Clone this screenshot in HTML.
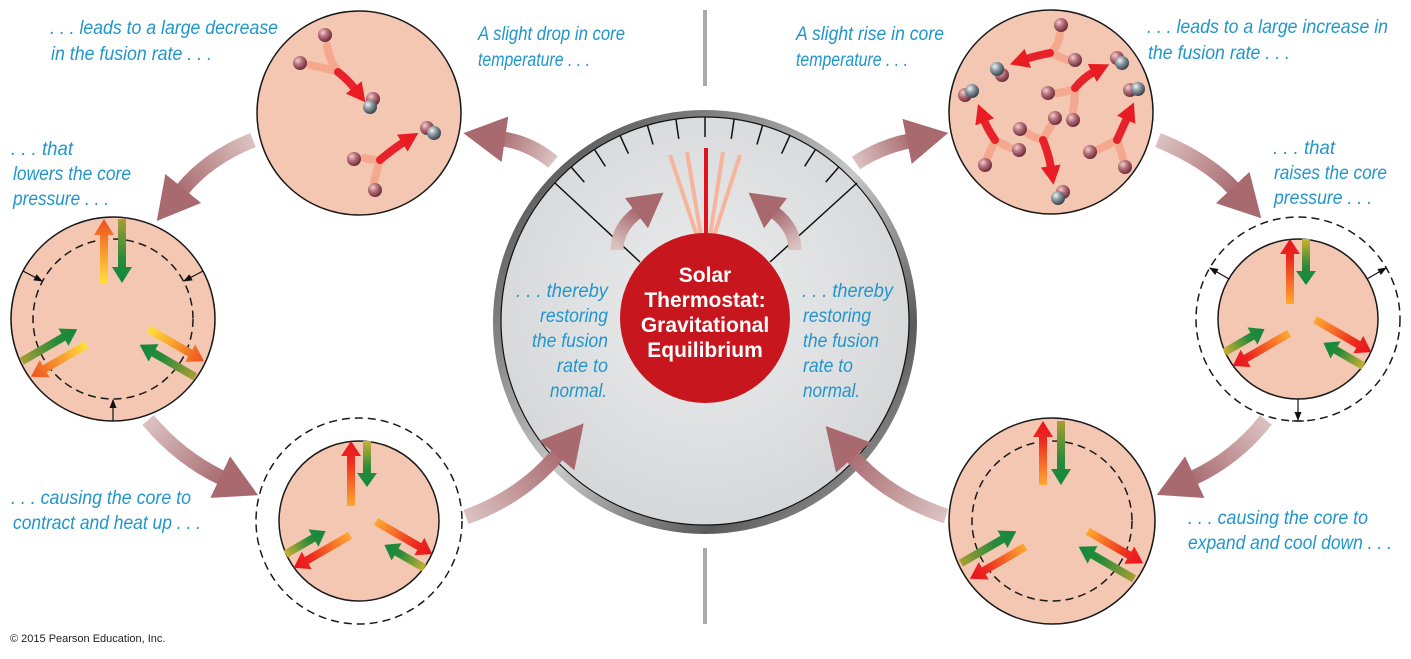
<!DOCTYPE html>
<html><head><meta charset="utf-8"><style>
html,body{margin:0;padding:0;background:#fff;}
svg{display:block;}
.t{font-family:"Liberation Sans Narrow","Liberation Sans",sans-serif;font-style:italic;font-size:19px;fill:#2196cc;}
.w{font-family:"Liberation Sans",sans-serif;font-weight:bold;font-size:21px;fill:#fff;}
</style></head><body>
<svg width="1411" height="659" viewBox="0 0 1411 659" xmlns="http://www.w3.org/2000/svg">
<defs>
<marker id="bh" markerUnits="userSpaceOnUse" markerWidth="44" markerHeight="46" refX="2" refY="23" orient="auto"><path d="M0,0 L42,23 L0,46 z" fill="#a86a6f"/></marker>
<marker id="ih" markerUnits="userSpaceOnUse" markerWidth="36" markerHeight="38" refX="2" refY="19" orient="auto"><path d="M0,0 L34,19 L0,38 z" fill="#a8696e"/></marker>
<marker id="rh" markerUnits="userSpaceOnUse" markerWidth="20" markerHeight="20" refX="2" refY="10" orient="auto"><path d="M0,0 L19,10 L0,20 z" fill="#e81c22"/></marker>
<marker id="kh" markerUnits="userSpaceOnUse" markerWidth="9" markerHeight="7" refX="8" refY="3.5" orient="auto"><path d="M0,0 L9,3.5 L0,7 z" fill="#111"/></marker>
<radialGradient id="pk" cx="35%" cy="32%" r="70%"><stop offset="0" stop-color="#f4d0d0"/><stop offset="0.45" stop-color="#b6707a"/><stop offset="1" stop-color="#6a2c38"/></radialGradient>
<radialGradient id="gy" cx="35%" cy="32%" r="70%"><stop offset="0" stop-color="#f0f4f6"/><stop offset="0.45" stop-color="#8c989f"/><stop offset="1" stop-color="#37434c"/></radialGradient>
<linearGradient id="ring" x1="0" y1="0" x2="1" y2="1"><stop offset="0" stop-color="#3a3a3a"/><stop offset="0.3" stop-color="#8a8a8a"/><stop offset="0.5" stop-color="#c8c8c8"/><stop offset="0.75" stop-color="#5a5a5a"/><stop offset="1" stop-color="#b8b8b8"/></linearGradient>
<radialGradient id="face" cx="50%" cy="45%" r="60%"><stop offset="0" stop-color="#eceded"/><stop offset="1" stop-color="#d3d5d7"/></radialGradient>
<linearGradient id="gO1" gradientUnits="userSpaceOnUse" x1="0" y1="-36" x2="0" y2="-100"><stop offset="0" stop-color="#ffe03a"/><stop offset="1" stop-color="#ee4e1e"/></linearGradient>
<linearGradient id="gI1" gradientUnits="userSpaceOnUse" x1="0" y1="-100" x2="0" y2="-36"><stop offset="0" stop-color="#a89e34"/><stop offset="0.6" stop-color="#2a8a3a"/><stop offset="1" stop-color="#0f883c"/></linearGradient>
<linearGradient id="gR1" gradientUnits="userSpaceOnUse" x1="0" y1="-36" x2="0" y2="-100"><stop offset="0" stop-color="#ffa830"/><stop offset="0.7" stop-color="#ec2a20"/><stop offset="1" stop-color="#e8101e"/></linearGradient>
<linearGradient id="gR2" gradientUnits="userSpaceOnUse" x1="0" y1="-15" x2="0" y2="-80"><stop offset="0" stop-color="#ffa830"/><stop offset="0.7" stop-color="#ec2a20"/><stop offset="1" stop-color="#e8101e"/></linearGradient>
<linearGradient id="gI2" gradientUnits="userSpaceOnUse" x1="0" y1="-80" x2="0" y2="-34"><stop offset="0" stop-color="#c8b032"/><stop offset="0.6" stop-color="#2a8a3a"/><stop offset="1" stop-color="#0f883c"/></linearGradient>
<g id="pA">
<path d="M-13,-36 h8 v-48 h6 l-10,-16 l-10,16 h6 z" fill="url(#gO1)"/>
<path d="M5,-100 h8 v48 h6 l-10,16 l-10,-16 h6 z" fill="url(#gI1)"/>
</g>
<g id="pB">
<path d="M-13,-36 h8 v-48 h6 l-10,-16 l-10,16 h6 z" fill="url(#gR1)"/>
<path d="M5,-100 h8 v48 h6 l-10,16 l-10,-16 h6 z" fill="url(#gI1)"/>
</g>
<g id="pC">
<path d="M-12,-15 h8 v-50 h6 l-10,-15 l-10,15 h6 z" fill="url(#gR2)"/>
<path d="M4,-80 h8 v32 h6 l-10,14 l-10,-14 h6 z" fill="url(#gI2)"/>
</g>
<linearGradient id="a1" gradientUnits="userSpaceOnUse" x1="553" y1="162" x2="497" y2="138"><stop offset="0" stop-color="#dcc2c2"/><stop offset="1" stop-color="#a86a6f"/></linearGradient>
<linearGradient id="a2" gradientUnits="userSpaceOnUse" x1="253" y1="140" x2="178" y2="193"><stop offset="0" stop-color="#dcc2c2"/><stop offset="1" stop-color="#a86a6f"/></linearGradient>
<linearGradient id="a3" gradientUnits="userSpaceOnUse" x1="148" y1="420" x2="226" y2="480"><stop offset="0" stop-color="#dcc2c2"/><stop offset="1" stop-color="#a86a6f"/></linearGradient>
<linearGradient id="a4" gradientUnits="userSpaceOnUse" x1="466" y1="517" x2="562" y2="450"><stop offset="0" stop-color="#dcc2c2"/><stop offset="1" stop-color="#a86a6f"/></linearGradient>
<linearGradient id="a5" gradientUnits="userSpaceOnUse" x1="856" y1="163" x2="913" y2="140"><stop offset="0" stop-color="#dcc2c2"/><stop offset="1" stop-color="#a86a6f"/></linearGradient>
<linearGradient id="a6" gradientUnits="userSpaceOnUse" x1="1158" y1="140" x2="1238" y2="192"><stop offset="0" stop-color="#dcc2c2"/><stop offset="1" stop-color="#a86a6f"/></linearGradient>
<linearGradient id="a7" gradientUnits="userSpaceOnUse" x1="1266" y1="420" x2="1188" y2="480"><stop offset="0" stop-color="#dcc2c2"/><stop offset="1" stop-color="#a86a6f"/></linearGradient>
<linearGradient id="a8" gradientUnits="userSpaceOnUse" x1="946" y1="516" x2="848" y2="452"><stop offset="0" stop-color="#dcc2c2"/><stop offset="1" stop-color="#a86a6f"/></linearGradient>
<linearGradient id="a9" gradientUnits="userSpaceOnUse" x1="617" y1="247" x2="638" y2="212"><stop offset="0" stop-color="#dcc2c2"/><stop offset="1" stop-color="#a86a6f"/></linearGradient>
<linearGradient id="a10" gradientUnits="userSpaceOnUse" x1="795" y1="247" x2="774" y2="212"><stop offset="0" stop-color="#dcc2c2"/><stop offset="1" stop-color="#a86a6f"/></linearGradient>
</defs>

<rect x="703" y="10" width="4" height="76" fill="#aaa"/>
<rect x="703" y="548" width="4" height="76" fill="#aaa"/>

<circle cx="705" cy="322" r="212" fill="url(#ring)"/>
<circle cx="705" cy="321" r="204" fill="url(#face)" stroke="#111" stroke-width="1.2"/>
<g stroke="#111" stroke-width="1.5">
<line x1="555" y1="183" x2="640" y2="262"/>
<line x1="857" y1="183" x2="770" y2="262"/>
<g transform="translate(705,321)">
<line x1="0" y1="-204" x2="0" y2="-184"/>
<line x1="0" y1="-204" x2="0" y2="-184" transform="rotate(8.2)"/>
<line x1="0" y1="-204" x2="0" y2="-184" transform="rotate(16.4)"/>
<line x1="0" y1="-204" x2="0" y2="-184" transform="rotate(24.6)"/>
<line x1="0" y1="-204" x2="0" y2="-184" transform="rotate(32.8)"/>
<line x1="0" y1="-204" x2="0" y2="-184" transform="rotate(41)"/>
<line x1="0" y1="-204" x2="0" y2="-184" transform="rotate(-8.2)"/>
<line x1="0" y1="-204" x2="0" y2="-184" transform="rotate(-16.4)"/>
<line x1="0" y1="-204" x2="0" y2="-184" transform="rotate(-24.6)"/>
<line x1="0" y1="-204" x2="0" y2="-184" transform="rotate(-32.8)"/>
<line x1="0" y1="-204" x2="0" y2="-184" transform="rotate(-41)"/>
</g></g>
<g stroke="#f7b49c" stroke-width="4">
<line x1="670" y1="155" x2="697" y2="236"/>
<line x1="687" y1="152" x2="701" y2="236"/>
<line x1="723" y1="152" x2="710" y2="236"/>
<line x1="740" y1="155" x2="714" y2="236"/>
</g>
<line x1="706" y1="148" x2="706" y2="240" stroke="#e0141c" stroke-width="4"/>
<path d="M617,250 Q617,228 638,212" fill="none" stroke="url(#a9)" stroke-width="13" marker-end="url(#ih)"/>
<path d="M795,250 Q795,228 774,212" fill="none" stroke="url(#a10)" stroke-width="13" marker-end="url(#ih)"/>
<circle cx="705" cy="318" r="85" fill="#c8161e"/>
<g class="w" text-anchor="middle">
<text x="705" y="282">Solar</text>
<text x="705" y="307">Thermostat:</text>
<text x="705" y="332">Gravitational</text>
<text x="705" y="357">Equilibrium</text>
</g>
<text class="t" x="516" y="297" textLength="92" lengthAdjust="spacingAndGlyphs">. . . thereby</text>
<text class="t" x="540" y="322" textLength="68" lengthAdjust="spacingAndGlyphs">restoring</text>
<text class="t" x="532" y="347" textLength="76" lengthAdjust="spacingAndGlyphs">the fusion</text>
<text class="t" x="557" y="372" textLength="51" lengthAdjust="spacingAndGlyphs">rate to</text>
<text class="t" x="550" y="397" textLength="57" lengthAdjust="spacingAndGlyphs">normal.</text>
<text class="t" x="802" y="297" textLength="91" lengthAdjust="spacingAndGlyphs">. . . thereby</text>
<text class="t" x="803" y="322" textLength="68" lengthAdjust="spacingAndGlyphs">restoring</text>
<text class="t" x="803" y="347" textLength="76" lengthAdjust="spacingAndGlyphs">the fusion</text>
<text class="t" x="803" y="372" textLength="50" lengthAdjust="spacingAndGlyphs">rate to</text>
<text class="t" x="803" y="397" textLength="57" lengthAdjust="spacingAndGlyphs">normal.</text>

<g fill="none" stroke-width="15">
<path d="M553,162 Q530,143 503,139" stroke="url(#a1)" marker-end="url(#bh)"/>
<path d="M253,140 Q208,158 182,190" stroke="url(#a2)" marker-end="url(#bh)"/>
<path d="M148,420 Q180,458 222,478" stroke="url(#a3)" marker-end="url(#bh)"/>
<path d="M466,517 Q522,497 558,454" stroke="url(#a4)" marker-end="url(#bh)"/>
<path d="M856,163 Q880,147 909,141" stroke="url(#a5)" marker-end="url(#bh)"/>
<path d="M1158,140 Q1207,160 1234,189" stroke="url(#a6)" marker-end="url(#bh)"/>
<path d="M1266,420 Q1236,458 1193,478" stroke="url(#a7)" marker-end="url(#bh)"/>
<path d="M946,516 Q888,497 852,456" stroke="url(#a8)" marker-end="url(#bh)"/>
</g>

<circle cx="359" cy="113" r="102" fill="#f3c7b2" stroke="#1a1a1a" stroke-width="1.5"/>
<g fill="none" stroke-width="8" stroke-linecap="round">
<path d="M327,45 Q330,62 338,72 M310,65 Q325,68 338,72" stroke="#f6a88e"/>
<path d="M338,72 Q348,80 355,89" stroke="#e8222a" marker-end="url(#rh)"/>
<path d="M364,158 Q372,160 380,160 M374,182 Q377,170 380,160" stroke="#f6a88e"/>
<path d="M380,160 Q393,149 404,142" stroke="#e8222a" marker-end="url(#rh)"/>
</g>
<circle cx="325" cy="35" r="7" fill="url(#pk)"/>
<circle cx="300" cy="63" r="7" fill="url(#pk)"/>
<circle cx="373" cy="99" r="7" fill="url(#pk)"/>
<circle cx="370" cy="107" r="7" fill="url(#gy)"/>
<circle cx="354" cy="159" r="7" fill="url(#pk)"/>
<circle cx="375" cy="190" r="7" fill="url(#pk)"/>
<circle cx="427" cy="128" r="7" fill="url(#pk)"/>
<circle cx="434" cy="133" r="7" fill="url(#gy)"/>

<circle cx="1051" cy="112" r="102" fill="#f3c7b2" stroke="#1a1a1a" stroke-width="1.5"/>
<g fill="none" stroke-width="8" stroke-linecap="round">
<path d="M1060,34 Q1058,48 1050,53 M1067,60 Q1058,56 1050,53" stroke="#f6a88e"/>
<path d="M1050,53 Q1035,56 1026,59" stroke="#e8222a" marker-end="url(#rh)"/>
<path d="M1057,93 Q1068,92 1075,88 M1073,112 Q1075,100 1075,88" stroke="#f6a88e"/>
<path d="M1075,88 Q1084,77 1094,72" stroke="#e8222a" marker-end="url(#rh)"/>
<path d="M987,158 Q992,148 995,140 M1011,148 Q1002,144 995,140" stroke="#f6a88e"/>
<path d="M995,140 Q987,128 984,120" stroke="#e8222a" marker-end="url(#rh)"/>
<path d="M1027,133 Q1035,138 1043,140 M1051,126 Q1046,133 1043,140" stroke="#f6a88e"/>
<path d="M1043,140 Q1049,155 1051,168" stroke="#e8222a" marker-end="url(#rh)"/>
<path d="M1097,150 Q1108,145 1117,140 M1123,158 Q1120,148 1117,140" stroke="#f6a88e"/>
<path d="M1117,140 Q1123,127 1127,118" stroke="#e8222a" marker-end="url(#rh)"/>
</g>
<g>
<circle cx="1061" cy="25" r="7" fill="url(#pk)"/>
<circle cx="1075" cy="60" r="7" fill="url(#pk)"/>
<circle cx="1048" cy="93" r="7" fill="url(#pk)"/>
<circle cx="1055" cy="118" r="7" fill="url(#pk)"/>
<circle cx="1073" cy="120" r="7" fill="url(#pk)"/>
<circle cx="1020" cy="129" r="7" fill="url(#pk)"/>
<circle cx="1019" cy="150" r="7" fill="url(#pk)"/>
<circle cx="985" cy="165" r="7" fill="url(#pk)"/>
<circle cx="1090" cy="152" r="7" fill="url(#pk)"/>
<circle cx="1125" cy="167" r="7" fill="url(#pk)"/>
<circle cx="1002" cy="75" r="7" fill="url(#pk)"/><circle cx="997" cy="69" r="7" fill="url(#gy)"/>
<circle cx="965" cy="95" r="7" fill="url(#pk)"/><circle cx="972" cy="91" r="7" fill="url(#gy)"/>
<circle cx="1117" cy="58" r="7" fill="url(#pk)"/><circle cx="1122" cy="63" r="7" fill="url(#gy)"/>
<circle cx="1130" cy="90" r="7" fill="url(#pk)"/><circle cx="1138" cy="89" r="7" fill="url(#gy)"/>
<circle cx="1063" cy="192" r="7" fill="url(#pk)"/><circle cx="1058" cy="198" r="7" fill="url(#gy)"/>
</g>

<circle cx="113" cy="319" r="102" fill="#f3c7b2" stroke="#1a1a1a" stroke-width="1.5"/>
<circle cx="113" cy="319" r="80" fill="none" stroke="#1a1a1a" stroke-width="1.5" stroke-dasharray="8 5"/>
<use href="#pA" transform="translate(113,319)"/>
<use href="#pA" transform="translate(113,319) rotate(-120)"/>
<use href="#pA" transform="translate(113,319) rotate(120)"/>
<g stroke="#111" stroke-width="1.2" marker-end="url(#kh)">
<line x1="23" y1="271" x2="42" y2="281"/>
<line x1="203" y1="271" x2="184" y2="281"/>
<line x1="113" y1="421" x2="113" y2="400"/>
</g>

<circle cx="359" cy="521" r="103" fill="none" stroke="#1a1a1a" stroke-width="1.5" stroke-dasharray="8 5"/>
<circle cx="359" cy="521" r="80" fill="#f3c7b2" stroke="#1a1a1a" stroke-width="1.5"/>
<use href="#pC" transform="translate(359,521)"/>
<use href="#pC" transform="translate(359,521) rotate(-120)"/>
<use href="#pC" transform="translate(359,521) rotate(120)"/>

<circle cx="1298" cy="319" r="102" fill="none" stroke="#1a1a1a" stroke-width="1.5" stroke-dasharray="8 5"/>
<circle cx="1298" cy="319" r="80" fill="#f3c7b2" stroke="#1a1a1a" stroke-width="1.5"/>
<use href="#pC" transform="translate(1298,319)"/>
<use href="#pC" transform="translate(1298,319) rotate(-120)"/>
<use href="#pC" transform="translate(1298,319) rotate(120)"/>
<g stroke="#111" stroke-width="1.2" marker-end="url(#kh)">
<line x1="1229" y1="279" x2="1210" y2="268"/>
<line x1="1367" y1="279" x2="1386" y2="268"/>
<line x1="1298" y1="399" x2="1298" y2="420"/>
</g>
<line x1="1292" y1="421" x2="1304" y2="421" stroke="#111" stroke-width="1.2"/>

<circle cx="1052" cy="521" r="103" fill="#f3c7b2" stroke="#1a1a1a" stroke-width="1.5"/>
<circle cx="1052" cy="521" r="80" fill="none" stroke="#1a1a1a" stroke-width="1.5" stroke-dasharray="8 5"/>
<use href="#pB" transform="translate(1052,521)"/>
<use href="#pB" transform="translate(1052,521) rotate(-120)"/>
<use href="#pB" transform="translate(1052,521) rotate(120)"/>

<text class="t" x="50" y="34" textLength="228" lengthAdjust="spacingAndGlyphs">. . . leads to a large decrease</text>
<text class="t" x="51" y="60" textLength="161" lengthAdjust="spacingAndGlyphs">in the fusion rate . . .</text>
<text class="t" x="478" y="40" textLength="147" lengthAdjust="spacingAndGlyphs">A slight drop in core</text>
<text class="t" x="478" y="66" textLength="112" lengthAdjust="spacingAndGlyphs">temperature . . .</text>
<text class="t" x="11" y="155" textLength="62" lengthAdjust="spacingAndGlyphs">. . . that</text>
<text class="t" x="13" y="180" textLength="118" lengthAdjust="spacingAndGlyphs">lowers the core</text>
<text class="t" x="13" y="205" textLength="96" lengthAdjust="spacingAndGlyphs">pressure . . .</text>
<text class="t" x="11" y="504" textLength="180" lengthAdjust="spacingAndGlyphs">. . . causing the core to</text>
<text class="t" x="13" y="529" textLength="188" lengthAdjust="spacingAndGlyphs">contract and heat up . . .</text>
<text class="t" x="796" y="40" textLength="148" lengthAdjust="spacingAndGlyphs">A slight rise in core</text>
<text class="t" x="796" y="66" textLength="112" lengthAdjust="spacingAndGlyphs">temperature . . .</text>
<text class="t" x="1147" y="33" textLength="241" lengthAdjust="spacingAndGlyphs">. . . leads to a large increase in</text>
<text class="t" x="1148" y="59" textLength="142" lengthAdjust="spacingAndGlyphs">the fusion rate . . .</text>
<text class="t" x="1273" y="154" textLength="62" lengthAdjust="spacingAndGlyphs">. . . that</text>
<text class="t" x="1274" y="179" textLength="113" lengthAdjust="spacingAndGlyphs">raises the core</text>
<text class="t" x="1274" y="204" textLength="98" lengthAdjust="spacingAndGlyphs">pressure . . .</text>
<text class="t" x="1188" y="524" textLength="180" lengthAdjust="spacingAndGlyphs">. . . causing the core to</text>
<text class="t" x="1188" y="549" textLength="204" lengthAdjust="spacingAndGlyphs">expand and cool down . . .</text>
<text x="10" y="642" font-family="Liberation Sans, sans-serif" font-size="11" fill="#222">© 2015 Pearson Education, Inc.</text>
</svg>
</body></html>
